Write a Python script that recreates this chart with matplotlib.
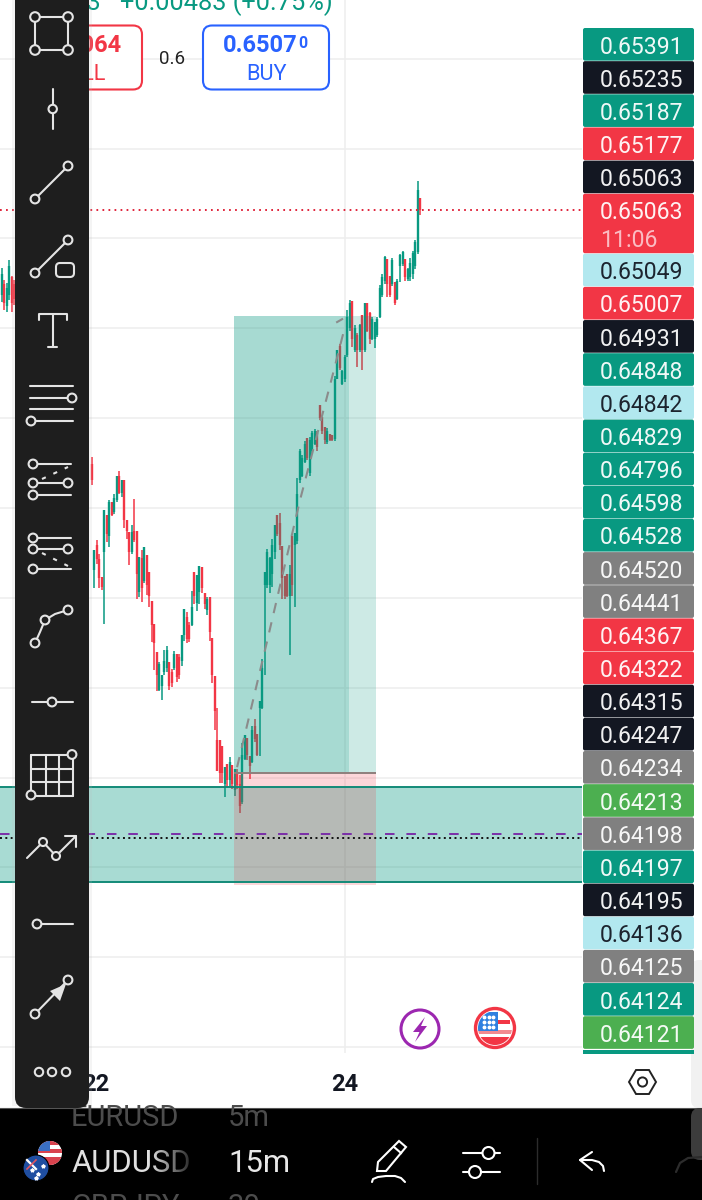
import numpy as np
import matplotlib
matplotlib.use("Agg")
import matplotlib.pyplot as plt
from matplotlib.patches import Circle, FancyBboxPatch, Polygon, Rectangle

plt.rcParams["font.family"] = ["Roboto", "DejaVu Sans"]

# prices are in points (1e-5)
left_x = [-36, -35, -34, -33, -32, -31]
left_high = [64983, 64966, 64962, 64994, 64972, 64966]
left_low = [64936, 64925, 64922, 64939, 64922, 64932]
left_open = [64945, 64960, 64930, 64945, 64970, 64960]
left_close = [64975, 64935, 64955, 64985, 64935, 64940]

highs = [
    64722, 64593, 64607, 64588, 64556, 64649, 64641, 64662, 64660, 64670, 64695, 64702,
    64690, 64690, 64634, 64618, 64627, 64664, 64620, 64584, 64593, 64597, 64586, 64563,
    64523, 64491, 64452, 64438, 64420, 64455, 64460, 64439, 64429, 64454, 64450, 64449,
    64476, 64511, 64508, 64494, 64537, 64562, 64558, 64571, 64569, 64533, 64528, 64528,
    64471, 64419, 64375, 64330, 64322, 64293, 64298, 64307, 64296, 64291, 64291, 64282,
    64326, 64338, 64334, 64308, 64350, 64359, 64339, 64385, 64443, 64563, 64595, 64584,
    64608, 64627, 64641, 64644, 64599, 64557, 64560, 64572, 64613, 64616, 64692, 64732,
    64725, 64744, 64748, 64749, 64757, 64760, 64758, 64794, 64777, 64763, 64761, 64753,
    64752, 64833, 64869, 64878, 64842, 64862, 64925, 64938, 64937, 64904, 64893, 64906,
    64918, 64935, 64934, 64922, 64915, 64908, 64915, 64959, 64975, 64999, 64995, 64971,
    64996, 64964, 64968, 65002, 65006, 64995, 64983, 64996, 65006, 65021, 65103, 65080,
]
lows = [
    64683, 64540, 64574, 64540, 64538, 64491, 64604, 64597, 64640, 64643, 64660, 64671,
    64666, 64623, 64608, 64572, 64587, 64604, 64526, 64528, 64521, 64547, 64531, 64515,
    64466, 64427, 64398, 64398, 64386, 64420, 64425, 64399, 64404, 64427, 64411, 64415,
    64433, 64468, 64464, 64466, 64488, 64519, 64509, 64519, 64533, 64511, 64503, 64468,
    64409, 64345, 64288, 64271, 64271, 64252, 64266, 64266, 64263, 64253, 64263, 64230,
    64242, 64303, 64303, 64277, 64299, 64328, 64309, 64309, 64374, 64421, 64541, 64533,
    64542, 64581, 64612, 64593, 64525, 64525, 64528, 64448, 64529, 64515, 64602, 64686,
    64694, 64713, 64718, 64695, 64726, 64738, 64730, 64773, 64754, 64740, 64740, 64743,
    64744, 64744, 64829, 64842, 64821, 64825, 64860, 64896, 64874, 64866, 64846, 64867,
    64842, 64866, 64894, 64878, 64883, 64872, 64888, 64914, 64943, 64961, 64943, 64942,
    64958, 64932, 64938, 64964, 64985, 64965, 64965, 64965, 64967, 64982, 65002, 65056,
]
opens = [
    64712, 64565, 64600, 64580, 64556, 64590, 64641, 64612, 64660, 64645, 64662, 64695,
    64672, 64690, 64634, 64618, 64590, 64620, 64620, 64535, 64582, 64550, 64586, 64563,
    64523, 64491, 64452, 64400, 64405, 64425, 64430, 64439, 64425, 64430, 64450, 64445,
    64440, 64475, 64500, 64490, 64490, 64562, 64520, 64535, 64569, 64533, 64510, 64528,
    64471, 64419, 64330, 64330, 64322, 64270, 64298, 64275, 64296, 64262, 64285, 64270,
    64245, 64305, 64334, 64308, 64300, 64350, 64339, 64375, 64375, 64545, 64545, 64545,
    64560, 64590, 64641, 64630, 64599, 64557, 64560, 64530, 64613, 64600, 64605, 64690,
    64695, 64715, 64748, 64700, 64730, 64740, 64755, 64794, 64777, 64763, 64742, 64753,
    64752, 64746, 64830, 64875, 64822, 64830, 64862, 64900, 64937, 64870, 64890, 64870,
    64918, 64870, 64934, 64920, 64885, 64885, 64890, 64915, 64945, 64965, 64995, 64971,
    64960, 64964, 64940, 64985, 64988, 64995, 64967, 64970, 64975, 64985, 65005, 65080,
]
closes = [
    64690, 64593, 64580, 64555, 64542, 64649, 64615, 64660, 64642, 64665, 64695, 64672,
    64690, 64635, 64620, 64590, 64618, 64607, 64560, 64584, 64540, 64597, 64545, 64530,
    64490, 64465, 64420, 64435, 64420, 64440, 64455, 64405, 64410, 64450, 64418, 64420,
    64476, 64511, 64470, 64470, 64515, 64530, 64558, 64571, 64540, 64518, 64525, 64480,
    64420, 64370, 64288, 64285, 64285, 64293, 64275, 64300, 64270, 64291, 64268, 64240,
    64310, 64338, 64310, 64295, 64345, 64332, 64310, 64385, 64430, 64563, 64590, 64582,
    64600, 64627, 64615, 64600, 64555, 64530, 64530, 64560, 64545, 64616, 64670, 64730,
    64720, 64740, 64720, 64745, 64755, 64758, 64735, 64775, 64758, 64745, 64758, 64745,
    64745, 64830, 64869, 64845, 64840, 64860, 64915, 64935, 64885, 64900, 64870, 64904,
    64870, 64935, 64895, 64885, 64912, 64908, 64912, 64955, 64970, 64998, 64960, 64945,
    64994, 64935, 64965, 65000, 65005, 64970, 64982, 64990, 65004, 65018, 65090, 65063,
]

grid_prices = [65271, 65147, 65024, 64900, 64776, 64651, 64527, 64402, 64278, 64155, 64031, 63906]
last_price = 65063
purple_price = 64201
black_price = 64195

zone_top = 64266
zone_bottom = 64135
entry_price = 64285
target_price = 64917
stop_price = 64130

trend_x = [58.0, 69.9, 83.1, 95.1, 100.7]
trend_y = [64293, 64466, 64662, 64821, 64897]
tail_x = [97.9, 99.9]
tail_y = [64908, 64912]

time_ticks = [1.7, 101.1]
time_labels = ["22", "24"]

label_texts = [
    "0.65391", "0.65235", "0.65187", "0.65177", "0.65063", "0.65063", "0.65049", "0.65007",
    "0.64931", "0.64848", "0.64842", "0.64829", "0.64796", "0.64598", "0.64528", "0.64520",
    "0.64441", "0.64367", "0.64322", "0.64315", "0.64247", "0.64234", "0.64213", "0.64198",
    "0.64197", "0.64195", "0.64136", "0.64125", "0.64124", "0.64121",
]
label_kinds = [
    "teal", "navy", "teal", "red", "navy", "red", "sky", "red",
    "navy", "teal", "sky", "teal", "teal", "teal", "teal", "gray",
    "gray", "red", "red", "navy", "navy", "gray", "green", "gray",
    "teal", "navy", "sky", "gray", "teal", "green",
]

TEAL = "#089981"
RED = "#F23645"
NAVY = "#131722"
BLUE = "#2962FF"
label_colors = {"teal": TEAL, "navy": NAVY, "red": RED, "sky": "#B2E8EF", "gray": "#808080", "green": "#4CAF50"}
ICON = "#e4e4e4"

fig = plt.figure(figsize=(7.02, 12), dpi=100, facecolor="white")

# chart: candle index vs price, 2.506 px per bar and 1.382 points per px
ax = fig.add_axes([0, 0, 1, 1], zorder=1)
ax.set_xlim(-36.6, 243.5)
ax.set_ylim(63695, 65353)
ax.axis("off")

right_edge = 195.7
ax.hlines(grid_prices, -36.6, right_edge, color="#f0f0f0", lw=1.3, zorder=1)
ax.vlines(time_ticks[1], 63898, 65353, color="#eeeeee", lw=1.1, zorder=1)

x_all = np.array(left_x + list(range(len(highs))))
hi = np.array(left_high + highs)
lo = np.array(left_low + lows)
op = np.array(left_open + opens)
cl = np.array(left_close + closes)
colors = [TEAL if c >= o else RED for o, c in zip(op, cl)]
ax.vlines(x_all, lo, hi, colors=colors, lw=1.1, zorder=2)
ax.vlines(x_all, np.minimum(op, cl), np.maximum(op, cl), colors=colors, lw=1.7, zorder=2)

ax.plot(trend_x, trend_y, color="#8b8b8b", lw=1.5, dashes=(5, 4.5), zorder=5)
ax.plot(tail_x, tail_y, color="#8b8b8b", lw=1.5, zorder=5)

# zone
ax.add_patch(Rectangle((-36.6, zone_bottom), right_edge + 36.6, zone_top - zone_bottom, fc=TEAL, alpha=0.35, ec="none", zorder=3))
ax.hlines([zone_top, zone_bottom], -36.6, right_edge, color="#128a78", lw=1.4, zorder=4)

# long position
ax.add_patch(Rectangle((56.8, entry_price), 56.6, target_price - entry_price, fc=TEAL, alpha=0.2, ec="none", zorder=3))
ax.add_patch(Rectangle((56.8, entry_price), 45.9, target_price - entry_price, fc=TEAL, alpha=0.19, ec="none", zorder=3))
ax.add_patch(Rectangle((56.8, stop_price), 56.6, entry_price - stop_price, fc=RED, alpha=0.2, ec="none", zorder=3))
ax.hlines(entry_price, 56.8, 113.4, color="#8f7f7c", lw=1.4, zorder=4)

ax.hlines(last_price, -36.6, right_edge, color="#e0233a", lw=1.4, linestyles=(0, (0.9, 2.2)), zorder=5)
ax.hlines(purple_price, -36.6, right_edge, color="#7b2fa8", lw=1.4, linestyles=(0, (4.9, 6.1)), zorder=5)
ax.hlines(black_price, -36.6, right_edge, color="#111111", lw=1.4, linestyles=(0, (1, 1.75)), zorder=5)

for tx, tl in zip(time_ticks, time_labels):
    ax.text(tx, 63855, tl, color=NAVY, fontsize=17, fontweight="bold", ha="center", va="center", zorder=6)

# app chrome in screen pixels
ui = fig.add_axes([0, 0, 1, 1], zorder=2)
ui.set_xlim(0, 702)
ui.set_ylim(1200, 0)
ui.axis("off")
ui.patch.set_alpha(0)


def seg(xs, ys, color=ICON, lw=1.5, z=12, **kw):
    ui.plot(xs, ys, color=color, lw=lw, solid_capstyle="round", zorder=z, **kw)


def ring(x, y, r=5.5, color=ICON, fc="#1e1e1e", lw=1.5, z=13):
    ui.add_patch(Circle((x, y), r, fc=fc, ec=color, lw=lw, zorder=z))


# price labels
row_y = 28
for txt, kind in zip(label_texts, label_kinds):
    tall = kind == "red" and txt == "0.65063"
    h = 60 if tall else 33.15
    ui.add_patch(FancyBboxPatch((583, row_y), 111, h - 0.5, boxstyle="round,pad=0,rounding_size=2",
                                fc=label_colors[kind], ec="none", zorder=4))
    tc = NAVY if kind == "sky" else "white"
    yc = row_y + 19
    ui.text(641.5, yc, txt, color=tc, fontsize=16.6, ha="center", va="center", zorder=5, alpha=0.94)
    if tall:
        ui.text(600, yc + 27.5, "11:06", color="#fbbcc3", fontsize=16.6, ha="left", va="center", zorder=5)
    row_y += h
ui.add_patch(Rectangle((583, 1050), 111, 4, fc=TEAL, ec="none", zorder=4))

# top header
ui.text(333, 10, "+0.00483 (+0.75%)", color=TEAL, fontsize=18.3, ha="right", va="baseline", zorder=3)
ui.text(101, 10, "503", color=TEAL, fontsize=18.3, ha="right", va="baseline", zorder=3)
ui.add_patch(FancyBboxPatch((60, 25.5), 82, 64, boxstyle="round,pad=0,rounding_size=9", fc="white", ec=RED, lw=1.5, zorder=3))
ui.text(122, 46, "0.65064", color=RED, fontsize=17, fontweight="bold", ha="right", va="center", zorder=4)
ui.text(105, 74, "SELL", color=RED, fontsize=15.7, ha="right", va="center", zorder=4)
ui.text(172.5, 58.5, "0.6", color="#222222", fontsize=13.5, ha="center", va="center", zorder=4)
ui.add_patch(FancyBboxPatch((203, 25.5), 126, 64, boxstyle="round,pad=0,rounding_size=9", fc="white", ec=BLUE, lw=1.5, zorder=3))
ui.text(298, 46, "0.6507", color=BLUE, fontsize=17, fontweight="bold", ha="right", va="center", zorder=4)
ui.text(298.5, 44, "0", color=BLUE, fontsize=11.5, fontweight="bold", ha="left", va="center", zorder=4)
ui.text(266, 74, "BUY", color=BLUE, fontsize=15.7, ha="center", va="center", zorder=4)

# news badges
ui.add_patch(Circle((420, 1029), 19, fc="white", ec="#9C27B0", lw=2.2, zorder=4))
ui.add_patch(Polygon([(425, 1017), (413, 1032), (419.5, 1032), (415, 1042), (427, 1026), (421, 1026)], fc="#9C27B0", ec="none", zorder=5))
ui.add_patch(Circle((495, 1028), 19.5, fc="white", ec=RED, lw=2.4, zorder=4))
flag_clip = Circle((495, 1028), 17, transform=ui.transData)
for part in [
    Rectangle((480, 1020), 30, 4, fc=RED, ec="none", zorder=5),
    Rectangle((476, 1030), 36, 4, fc="#f28a90", ec="none", zorder=5),
    Rectangle((476, 1037), 36, 9, fc=RED, ec="none", zorder=5),
    Rectangle((478, 1012), 20, 19, fc="#2f80e0", ec="none", zorder=6),
]:
    ui.add_patch(part)
    part.set_clip_path(flag_clip)
for sy in (1017, 1022, 1027):
    ui.plot([484, 488.5, 493], [sy] * 3, ls="none", marker="o", ms=1.8, color="white", zorder=7)

# hexagon settings button
ui.add_patch(Polygon([(629, 1082), (636, 1070), (649, 1070), (656, 1082), (649, 1094), (636, 1094)], fc="white", ec="#222222", lw=1.4, zorder=4))
ui.add_patch(Circle((642.5, 1082), 4.6, fc="white", ec="#222222", lw=1.4, zorder=5))

# scroll handle at the right edge
ui.add_patch(FancyBboxPatch((691, 960), 20, 148, boxstyle="round,pad=0,rounding_size=8", fc="#f1f1f1", ec="none", zorder=3))

# bottom bar
ui.add_patch(Rectangle((0, 1108), 702, 92, fc="black", ec="none", zorder=7))
ui.plot([0, 702], [1108, 1108], color="#555555", lw=0.8, zorder=8)
bar_clip = Rectangle((0, 1108), 702, 92, transform=ui.transData)
for x0, s in [(71, "EURUSD"), (228, "5m")]:
    ui.text(x0, 1126, s, color="#4c4c4c", fontsize=21, ha="left", va="baseline", zorder=8, clip_path=bar_clip, clip_on=True)
for x0, s in [(71, "GBPJPY"), (228, "30")]:
    ui.text(x0, 1215, s, color="#4c4c4c", fontsize=21, ha="left", va="baseline", zorder=8, clip_path=bar_clip, clip_on=True)
ui.text(71, 1172, "AUDUSD", color="#e0e0e0", fontsize=22.3, ha="left", va="baseline", zorder=8)
ui.text(228, 1172, "15m", color="#e8e8e8", fontsize=22.3, ha="left", va="baseline", zorder=8)
fade = np.zeros((1, 64, 4))
fade[0, :, 3] = np.linspace(0, 0.85, 64)
ui.imshow(fade, extent=(150, 192, 1180, 1140), aspect="auto", zorder=9)
ui.set_xlim(0, 702)
ui.set_ylim(1200, 0)

# flags
ui.add_patch(Circle((50, 1153), 12, fc="white", ec="none", zorder=8))
us_clip = Circle((50, 1153), 12, transform=ui.transData)
for part in [
    Rectangle((38, 1141), 24, 4, fc="#d9434e", ec="none", zorder=9),
    Rectangle((38, 1149), 24, 4, fc="#d9434e", ec="none", zorder=9),
    Rectangle((38, 1157), 24, 8, fc="#d9434e", ec="none", zorder=9),
    Rectangle((38, 1141), 12, 10, fc="#3a6fc4", ec="none", zorder=9),
]:
    ui.add_patch(part)
    part.set_clip_path(us_clip)
ui.add_patch(Circle((36, 1168), 13, fc="#1f4ea1", ec="black", lw=0.8, zorder=10))
ui.plot([27, 36], [1160, 1169], color="white", lw=1.6, zorder=11)
ui.plot([36, 27], [1160, 1169], color="#e05560", lw=1.2, zorder=11)
ui.plot([38, 32, 43, 36], [1174, 1170, 1166, 1178], ls="none", marker="*", ms=2.8, color="white", zorder=11)

# pencil, sliders, separator, undo
ui.add_patch(Polygon([(399, 1141), (406, 1147), (386, 1171), (377, 1171), (378, 1162)], fc="black", ec="white", lw=1.5, zorder=9))
ui.plot([394, 401], [1147, 1153], color="white", lw=1.5, zorder=10)
seg([372, 373, 378, 386, 395, 401, 405], [1182, 1179, 1177, 1176, 1176, 1178, 1182], color="white", z=10)
seg([463, 482], [1153, 1153], color="white", z=10)
seg([495, 500], [1153, 1153], color="white", z=10)
ring(488.5, 1153, 6, color="white", fc="black", z=10)
seg([463, 469], [1172, 1172], color="white", z=10)
seg([481, 500], [1172, 1172], color="white", z=10)
ring(475, 1172, 6, color="white", fc="black", z=10)
seg([537, 537], [1138, 1184], color="#2c2c2c", lw=1, z=9)
seg([592, 580, 592], [1152, 1160, 1170], color="white", z=10)
seg([580, 592, 599, 603, 604], [1160, 1160, 1162, 1166, 1171], color="white", z=10)
ui.add_patch(FancyBboxPatch((691, 1108), 20, 52, boxstyle="round,pad=0,rounding_size=9", fc="#3c3c3c", ec="none", zorder=8))
seg([676, 680, 688, 702], [1172, 1163, 1158, 1157], color="#2c2c2c", lw=1.6, z=9)

# left toolbar
ui.add_patch(Rectangle((12, 0), 80, 1106, fc="#bbbbbb", alpha=0.16, ec="none", zorder=10))
ui.add_patch(FancyBboxPatch((15, -20), 74, 1128, boxstyle="round,pad=0,rounding_size=11", fc="#1e1e1e", ec="none", zorder=11))

seg([35, 68, 68, 35, 35], [17, 17, 50, 50, 17])
for px, py in [(35, 17), (68, 17), (35, 50), (68, 50)]:
    ring(px, py, 4.8)
seg([52.7, 52.7], [89, 129])
ring(52.7, 109, 4.2)
seg([35, 68], [199, 166])
ring(35, 199, 4.4)
ring(68, 166, 4.4)
seg([35, 68], [273, 240])
ring(35, 273, 4.4)
ring(68, 240, 4.4)
ui.add_patch(FancyBboxPatch((56, 263), 18, 14, boxstyle="round,pad=0,rounding_size=4", fc="#1e1e1e", ec=ICON, lw=1.5, zorder=13))
seg([39, 39, 67, 67], [320, 314, 314, 320])
seg([52.5, 52.5], [314, 347])
seg([48, 57], [347, 347])
for ly in (386, 398, 409, 421):
    seg([30, 73], [ly, ly])
ring(72, 398, 4.4)
ring(31, 421, 4.4)
for ly, x1 in [(464, 71), (483, 68), (495, 71)]:
    seg([33, x1], [ly, ly])
    ring(33, ly, 4.4)
ring(68, 483, 4.4)
ui.plot([42, 68], [479, 467], color=ICON, lw=1.5, ls=(0, (2, 4)), zorder=12)
for ly, x1 in [(538, 71), (549, 68), (569, 71)]:
    seg([33, x1], [ly, ly])
    ring(33, ly, 4.4)
ring(68, 549, 4.4)
ui.plot([42, 68], [553, 566], color=ICON, lw=1.5, ls=(0, (2, 4)), zorder=12)
seg([35, 40, 45, 55, 68], [643, 632, 620, 614, 610])
for px, py in [(35, 643), (45, 620), (68, 610)]:
    ring(px, py, 4.4)
seg([32, 73], [702, 702])
ring(52, 702, 4.4)
for gx in (31, 46, 59, 72.5):
    seg([gx, gx], [755, 796])
for gy in (755, 769, 782, 796):
    seg([31, 72.5], [gy, gy])
ring(72, 754.5, 4.4)
ring(31, 795, 4.4)
seg([27, 43, 56, 76], [858, 842, 856, 836])
seg([65, 76, 76], [836, 836, 847])
ring(43, 842, 4.0)
ring(56, 856, 4.0)
seg([37, 73], [924, 924])
ring(37, 924, 4.4)
seg([35, 68], [1014, 980])
ui.add_patch(Polygon([(66, 984), (50, 991), (60, 1001)], fc=ICON, ec="none", zorder=13))
ring(35, 1014, 4.4)
ring(68, 980, 4.4)
for px in (39, 52, 66):
    ring(px, 1072, 4.2)

fig.savefig("out.png", dpi=100)
plt.close()
